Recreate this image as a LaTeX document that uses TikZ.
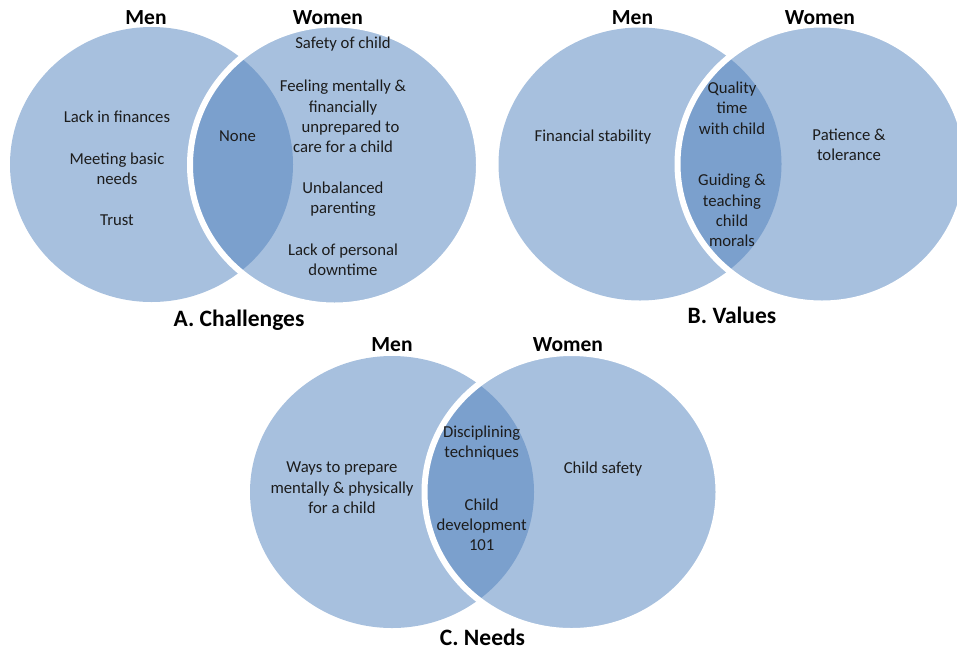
\documentclass[tikz,border=0pt]{standalone}
\usepackage{fontspec}
\setmainfont{Carlito}
\definecolor{vennlight}{HTML}{A7C0DE}
\definecolor{venndark}{HTML}{7BA0CD}
\definecolor{inktext}{HTML}{1C1C1C}
\begin{document}
\begin{tikzpicture}[x=1pt,y=-1pt,
  item/.style={font=\fontsize{16.7}{20.3}\selectfont, align=center, inner sep=0pt, text=inktext},
  head/.style={font=\bfseries\fontsize{21.5}{25}\selectfont, inner sep=0pt, text=black},
  caption/.style={font=\bfseries\fontsize{23.5}{28}\selectfont, inner sep=0pt, text=black},
  gap/.style={draw=white, line width=6pt}]
\useasboundingbox (0,0) rectangle (957,654);
\clip (0,0) rectangle (957,654);

% ---------- A. Challenges ----------
\fill[vennlight] (151.5,164.5) ellipse [x radius=141.5pt, y radius=137.5pt];
\fill[vennlight] (334.5,165) ellipse [x radius=144.5pt, y radius=140.5pt];
\begin{scope}
  \clip (151.5,164.5) ellipse [x radius=141.5pt, y radius=137.5pt];
  \fill[venndark] (334.5,165) ellipse [x radius=144.5pt, y radius=140.5pt];
\end{scope}
\draw[gap] (334.5,165) ellipse [x radius=144.5pt, y radius=140.5pt];

\node[head] (aMen) at (146,18) {Men};
\node[head] (aWomen) at (328,18) {Women};
\node[item] (aLack) at (117,117) {Lack in finances};
\node[item] (aMeet) at (117,169) {Meeting basic\\needs};
\node[item] (aTrust) at (117,220) {Trust};
\node[item] (aNone) at (237.5,136) {None};
\node[item] (aSafe) at (343,44) {Safety of child};
\node[item] (aFeel) at (343,116.5) {Feeling mentally \&\\financially\\\hspace*{15pt}unprepared to\\care for a child};
\node[item] (aUnbal) at (343,199) {Unbalanced\\parenting};
\node[item] (aDown) at (343,260) {Lack of personal\\downtime};
\node[caption] (aTitle) at (239,320) {A. Challenges};

% ---------- B. Values ----------
\fill[vennlight] (640,164) ellipse [x radius=141.5pt, y radius=136.5pt];
\fill[vennlight] (822,164) ellipse [x radius=144.5pt, y radius=139.5pt];
\begin{scope}
  \clip (640,164) ellipse [x radius=141.5pt, y radius=136.5pt];
  \fill[venndark] (822,164) ellipse [x radius=144.5pt, y radius=139.5pt];
\end{scope}
\draw[gap] (822,164) ellipse [x radius=144.5pt, y radius=139.5pt];

\node[head] (bMen) at (632.5,18) {Men};
\node[head] (bWomen) at (820,18) {Women};
\node[item] (bFin) at (593,137) {Financial stability};
\node[item] (bQual) at (732,108) {Quality\\time\\with child};
\node[item] (bGuide) at (732,210.5) {Guiding \&\\teaching\\child\\morals};
\node[item] (bPat) at (849,145) {Patience \&\\tolerance};
\node[caption] (bTitle) at (732,315) {B. Values};

% ---------- C. Needs ----------
\fill[vennlight] (392,492) ellipse [x radius=142pt, y radius=136pt];
\fill[vennlight] (571.5,492) ellipse [x radius=147pt, y radius=139pt];
\begin{scope}
  \clip (392,492) ellipse [x radius=142pt, y radius=136pt];
  \fill[venndark] (571.5,492) ellipse [x radius=147pt, y radius=139pt];
\end{scope}
\draw[gap] (571.5,492) ellipse [x radius=147pt, y radius=139pt];

\node[head] (cMen) at (392,345) {Men};
\node[head] (cWomen) at (568,345) {Women};
\node[item] (cWays) at (342,487.7) {Ways to prepare\\mentally \& physically\\for a child};
\node[item] (cDisc) at (481.7,443) {Disciplining\\techniques};
\node[item] (cChild) at (481.7,524.7) {Child\\development\\101};
\node[item] (cSafe) at (603,469) {Child safety};
\node[caption] (cTitle) at (482.5,637) {C. Needs};
\end{tikzpicture}
\end{document}
